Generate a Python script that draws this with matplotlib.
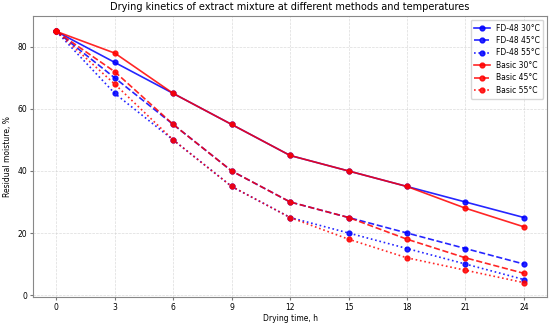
import matplotlib
matplotlib.use("Agg")
import matplotlib.pyplot as plt

# drying time, h
hours = [0, 3, 6, 9, 12, 15, 18, 21, 24]

# residual moisture, %
fd48_30 = [85, 75, 65, 55, 45, 40, 35, 30, 25]
fd48_45 = [85, 70, 55, 40, 30, 25, 20, 15, 10]
fd48_55 = [85, 65, 50, 35, 25, 20, 15, 10, 5]
basic_30 = [85, 78, 65, 55, 45, 40, 35, 28, 22]
basic_45 = [85, 72, 55, 40, 30, 25, 18, 12, 7]
basic_55 = [85, 68, 50, 35, 25, 18, 12, 8, 4]

plt.rcParams['font.size'] = 5.5

fig, ax = plt.subplots(figsize=(5.5, 3.25), dpi=100)
fig.subplots_adjust(left=0.06, right=0.995, top=0.951, bottom=0.086)

ax.plot(hours, fd48_30, 'o-', color='blue', label='FD-48 30°C', lw=1.2, ms=3.5, alpha=0.85)
ax.plot(hours, fd48_45, 'o--', color='blue', label='FD-48 45°C', lw=1.2, ms=3.5, alpha=0.85)
ax.plot(hours, fd48_55, 'o:', color='blue', label='FD-48 55°C', lw=1.2, ms=3.5, alpha=0.85)
ax.plot(hours, basic_30, 'o-', color='red', label='Basic 30°C', lw=1.2, ms=3.5, alpha=0.85)
ax.plot(hours, basic_45, 'o--', color='red', label='Basic 45°C', lw=1.2, ms=3.5, alpha=0.85)
ax.plot(hours, basic_55, 'o:', color='red', label='Basic 55°C', lw=1.2, ms=3.5, alpha=0.85)

ax.set_title('Drying kinetics of extract mixture at different methods and temperatures', fontsize=7, pad=4)
ax.set_xlabel('Drying time, h', labelpad=1.5)
ax.set_ylabel('Residual moisture, %', labelpad=4)
ax.tick_params(length=2.5, pad=1.5, color='#777777')
for s in ax.spines.values():
    s.set_color('#888888')
ax.set_xticks(hours)
ax.set_yticks([0, 20, 40, 60, 80])
ax.set_xlim(-1.2, 25.2)
ax.set_ylim(-0.65, 90)
ax.grid(True, linestyle='--', color='#cccccc', lw=0.5, alpha=0.7)
ax.legend(loc='upper right', fontsize=5.5, labelspacing=0.45, borderpad=0.5)

plt.savefig('out.png', dpi=100)
